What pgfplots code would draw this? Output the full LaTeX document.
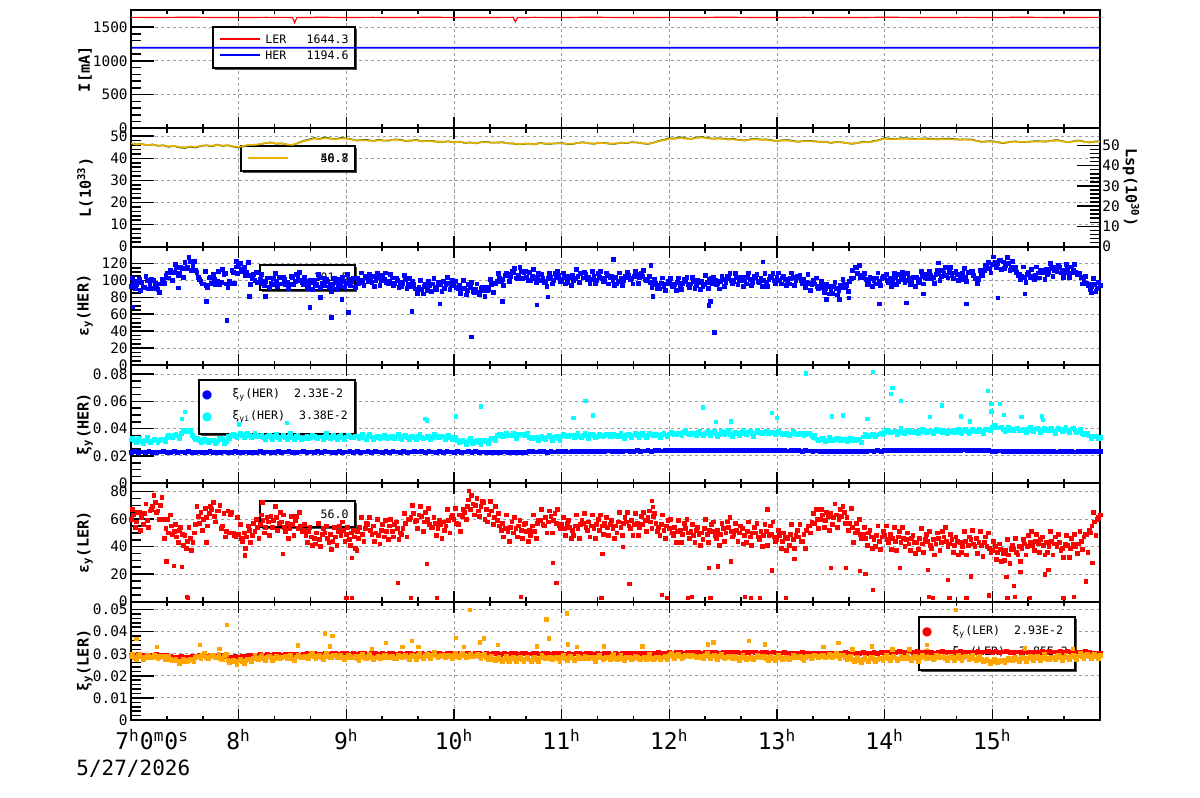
\documentclass[border=0pt]{standalone}
\usepackage{fontspec}
\setmainfont{DejaVu Sans Mono}
\newfontfamily\symf{DejaVu Sans}
\usepackage{pgfplots}
\usepackage{pgfplotstable}
\pgfplotsset{compat=1.18}

\definecolor{rblue}{RGB}{0,0,255}
\definecolor{rred}{RGB}{255,0,0}
\definecolor{rcyan}{RGB}{0,255,255}
\definecolor{rorange}{RGB}{255,165,0}
\definecolor{lorange}{RGB}{240,175,0}
\definecolor{lgreen}{RGB}{0,110,0}

\newcommand{\tfs}{\fontsize{7.2}{8}\selectfont}
\newcommand{\lfs}{\fontsize{7.6}{9}\selectfont\bfseries}
\newcommand{\gfs}{\fontsize{5.8}{7}\selectfont}
\newcommand{\hfs}{\fontsize{11.5}{13}\selectfont}
\newcommand{\dfs}{\fontsize{10.5}{12}\selectfont}

\pgfplotsset{
 panel/.style={scale only axis, width=484.5pt, height=59.1667pt, xmin=7, xmax=16, anchor=north west,
   axis line style={line width=1pt}, tick style={line width=0.8pt, black}, scaled ticks=false},
 bgax/.style={panel, xtick={7,8,...,16}, minor x tick num=2, xticklabels={}, ytick pos=left, yticklabels={},
   minor y tick num=0, xmajorgrids, ymajorgrids, major tick length=5.5pt, minor tick length=2.2pt,
   grid style={gray!75, dash pattern=on 1.6pt off 1.4pt, line width=0.5pt}},
 fgax/.style={panel, xtick=\empty, ytick pos=left, major tick length=11.5pt, minor tick length=5pt,
   yticklabel style={font=\tfs, inner sep=1pt, xshift=-0.5pt},
   every axis y label/.style={at={(rel axis cs:0,0.5)}, xshift=-23pt, rotate=90, anchor=center, font=\lfs}},
 sc/.style={only marks, mark=square*, mark size=0.85pt, mark options={draw=none}},
 scb/.style={only marks, mark=square*, mark size=0.95pt, mark options={draw=none}},
}

% ---------------- data ----------------
\pgfplotstableread[row sep=\\]{y\\
93\\99\\95\\101\\98\\92\\100\\95\\91\\97\\89\\96\\100\\106\\103\\109\\110\\115\\108\\114\\
121\\116\\123\\118\\112\\104\\99\\96\\94\\103\\97\\101\\99\\95\\113\\108\\92\\97\\110\\116\\
117\\113\\115\\110\\106\\102\\100\\98\\101\\96\\99\\103\\97\\102\\99\\104\\96\\101\\98\\95\\
103\\99\\105\\100\\95\\99\\94\\98\\100\\96\\103\\97\\94\\99\\96\\92\\98\\95\\93\\99\\
97\\101\\99\\102\\103\\98\\100\\104\\99\\102\\105\\100\\104\\100\\101\\98\\99\\103\\97\\100\\
98\\96\\101\\95\\93\\95\\90\\92\\89\\93\\88\\94\\96\\92\\98\\95\\99\\95\\97\\94\\
95\\92\\94\\90\\91\\88\\92\\87\\90\\86\\91\\88\\92\\89\\95\\97\\99\\103\\101\\106\\
107\\105\\110\\103\\106\\111\\109\\104\\110\\105\\102\\104\\100\\103\\99\\102\\104\\100\\103\\106\\
101\\104\\98\\103\\106\\102\\105\\108\\103\\107\\104\\101\\105\\100\\104\\102\\101\\106\\103\\100\\
104\\99\\102\\100\\103\\106\\102\\105\\107\\103\\105\\101\\100\\98\\95\\97\\94\\97\\93\\96\\
97\\93\\95\\98\\94\\97\\99\\95\\96\\99\\94\\98\\99\\95\\98\\101\\97\\100\\96\\99\\
101\\98\\102\\100\\99\\103\\100\\104\\100\\104\\101\\98\\103\\99\\102\\100\\98\\101\\103\\100\\
104\\100\\103\\101\\99\\102\\104\\100\\103\\100\\101\\98\\97\\95\\96\\93\\92\\94\\90\\93\\
89\\93\\91\\88\\92\\95\\94\\99\\112\\115\\108\\104\\103\\101\\99\\102\\100\\103\\99\\102\\
104\\100\\102\\99\\103\\99\\101\\104\\100\\102\\98\\103\\104\\101\\105\\103\\102\\106\\104\\107\\
108\\105\\109\\106\\110\\106\\109\\107\\105\\108\\104\\109\\111\\106\\103\\101\\107\\112\\118\\114\\
119\\122\\120\\124\\122\\118\\120\\116\\113\\110\\107\\105\\104\\107\\103\\105\\106\\109\\112\\110\\
113\\110\\114\\112\\111\\115\\112\\110\\113\\109\\112\\110\\108\\104\\100\\97\\96\\93\\95\\91\\
94\\}\epsH

\pgfplotstableread[row sep=\\]{y\\
103\\90\\99\\88\\92\\105\\90\\101\\100\\91\\86\\101\\97\\109\\112\\100\\119\\106\\115\\104\\
114\\127\\112\\123\\110\\101\\96\\111\\92\\104\\107\\95\\111\\98\\107\\96\\99\\112\\97\\108\\
120\\111\\106\\121\\95\\107\\110\\98\\107\\94\\103\\92\\95\\108\\93\\104\\104\\95\\90\\105\\
95\\107\\110\\98\\104\\91\\100\\89\\94\\107\\92\\103\\101\\92\\87\\102\\89\\101\\104\\92\\
107\\94\\103\\92\\96\\109\\94\\105\\107\\98\\93\\108\\94\\106\\109\\97\\107\\94\\103\\92\\
93\\106\\91\\102\\99\\90\\85\\100\\84\\96\\99\\87\\102\\89\\98\\87\\91\\104\\89\\100\\
99\\90\\85\\100\\83\\95\\98\\86\\96\\83\\92\\81\\88\\101\\86\\97\\108\\99\\94\\109\\
99\\111\\114\\102\\115\\102\\111\\100\\100\\113\\98\\109\\107\\98\\93\\108\\96\\108\\111\\99\\
109\\96\\105\\94\\100\\113\\98\\109\\110\\101\\96\\111\\96\\108\\111\\99\\109\\96\\105\\94\\
96\\109\\94\\105\\110\\101\\96\\111\\97\\109\\112\\100\\105\\92\\101\\90\\90\\103\\88\\99\\
102\\93\\88\\103\\89\\101\\104\\92\\104\\91\\100\\89\\93\\106\\91\\102\\104\\95\\90\\105\\
93\\105\\108\\96\\108\\95\\104\\93\\96\\109\\94\\105\\107\\98\\93\\108\\93\\105\\108\\96\\
109\\96\\105\\94\\96\\109\\94\\105\\106\\97\\92\\107\\88\\100\\103\\91\\99\\86\\95\\84\\
85\\98\\83\\94\\101\\92\\87\\102\\103\\115\\118\\106\\108\\95\\104\\93\\96\\109\\94\\105\\
107\\98\\93\\108\\95\\107\\110\\98\\108\\95\\104\\93\\98\\111\\96\\107\\111\\102\\97\\112\\
100\\112\\115\\103\\115\\102\\111\\100\\101\\114\\99\\110\\111\\102\\97\\112\\106\\118\\121\\109\\
128\\115\\124\\113\\114\\127\\112\\123\\115\\106\\101\\116\\98\\110\\113\\101\\116\\103\\112\\101\\
107\\120\\105\\116\\118\\109\\104\\119\\104\\116\\119\\107\\109\\96\\105\\94\\89\\102\\87\\98\\
}\epsHb

\pgfplotstableread[row sep=\\]{x y\\
7.02 68.6\\7.70 75.3\\7.89 52.6\\8.66 68.2\\8.86 56.5\\9.02 62\\9.61 63.5\\9.87 72.5\\10.16 33\\10.45 75.3\\
10.77 71.4\\10.87 80.4\\7.44 91\\8.10 81\\8.25 81\\8.76 80\\8.96 77.5\\12.37 70.6\\12.42 38.4\\12.38 75.3\\
13.95 72.5\\14.20 73.7\\14.76 72.5\\15.05 79.6\\15.30 84.3\\11.85 81\\13.46 77.6\\13.58 77.6\\13.67 79.6\\14.36 84.3\\
15.92 85.5\\12.87 122\\11.83 117.6\\14.50 121\\11.48 124.7\\7.98 122.7\\}\epsHout

\pgfplotstableread[row sep=\\]{y\\
60\\63\\58\\65\\61\\64\\59\\66\\69\\72\\66\\70\\60\\53\\50\\55\\51\\47\\52\\49\\
48\\44\\46\\43\\56\\62\\65\\60\\61\\64\\67\\62\\66\\70\\55\\47\\66\\63\\50\\47\\
49\\46\\50\\47\\52\\48\\51\\54\\56\\59\\54\\58\\62\\59\\61\\57\\58\\54\\57\\53\\
56\\59\\53\\55\\52\\48\\51\\47\\46\\50\\45\\49\\50\\46\\49\\44\\47\\51\\48\\52\\
49\\45\\50\\47\\51\\54\\49\\53\\56\\52\\55\\50\\48\\52\\47\\51\\55\\51\\56\\53\\
50\\53\\57\\60\\61\\64\\59\\63\\62\\58\\60\\56\\54\\57\\53\\56\\58\\55\\59\\61\\
60\\57\\63\\62\\65\\69\\67\\71\\70\\66\\69\\72\\67\\63\\66\\61\\59\\55\\57\\53\\
51\\54\\50\\53\\55\\52\\56\\51\\52\\55\\51\\57\\59\\56\\61\\58\\62\\59\\57\\55\\
56\\53\\57\\54\\52\\55\\53\\56\\57\\54\\58\\55\\53\\56\\52\\55\\57\\54\\56\\53\\
55\\58\\54\\57\\58\\55\\59\\56\\57\\54\\56\\59\\61\\58\\62\\57\\54\\56\\52\\55\\
53\\50\\54\\51\\52\\49\\53\\50\\51\\48\\52\\49\\50\\53\\49\\52\\51\\48\\52\\49\\
53\\50\\54\\51\\49\\52\\50\\53\\48\\51\\47\\50\\50\\47\\51\\48\\51\\48\\49\\47\\
45\\48\\44\\47\\46\\49\\45\\48\\47\\44\\49\\52\\55\\58\\57\\60\\60\\63\\59\\62\\
64\\61\\63\\60\\62\\65\\61\\57\\54\\50\\52\\49\\49\\46\\50\\47\\45\\48\\44\\47\\
48\\45\\49\\46\\44\\47\\43\\46\\45\\42\\46\\43\\43\\46\\42\\45\\44\\41\\45\\42\\
46\\43\\47\\44\\42\\45\\41\\44\\43\\40\\44\\41\\45\\42\\46\\43\\41\\43\\40\\39\\
37\\40\\36\\38\\35\\37\\34\\38\\38\\36\\40\\39\\42\\40\\43\\41\\44\\42\\45\\41\\
43\\40\\44\\42\\40\\43\\39\\42\\41\\39\\42\\40\\42\\44\\47\\49\\52\\55\\58\\60\\
63\\}\epsL

\pgfplotstableread[row sep=\\]{y\\
67\\54\\65\\52\\56\\71\\54\\67\\77\\65\\60\\76\\46\\60\\63\\49\\56\\43\\54\\41\\
39\\54\\37\\50\\69\\57\\52\\68\\55\\69\\72\\58\\66\\53\\64\\51\\50\\65\\48\\61\\
56\\44\\39\\55\\43\\57\\60\\46\\63\\50\\61\\48\\54\\69\\52\\65\\63\\51\\46\\62\\
48\\62\\65\\51\\56\\43\\54\\41\\42\\57\\40\\53\\55\\43\\38\\54\\41\\55\\58\\44\\
54\\41\\52\\39\\46\\61\\44\\57\\61\\49\\44\\60\\42\\56\\59\\45\\60\\47\\58\\45\\
49\\64\\47\\60\\70\\58\\53\\69\\51\\65\\68\\54\\61\\48\\59\\46\\52\\67\\50\\63\\
68\\56\\51\\67\\60\\74\\77\\63\\75\\62\\73\\60\\58\\73\\56\\69\\64\\52\\47\\63\\
44\\58\\61\\47\\59\\46\\57\\44\\48\\63\\46\\59\\67\\55\\50\\66\\50\\64\\67\\53\\
61\\48\\59\\46\\48\\63\\46\\59\\64\\52\\47\\63\\46\\60\\63\\49\\61\\48\\59\\46\\
50\\65\\48\\61\\65\\53\\48\\64\\48\\62\\65\\51\\66\\53\\64\\51\\48\\63\\46\\59\\
60\\48\\43\\59\\43\\57\\60\\46\\56\\43\\54\\41\\45\\60\\43\\56\\58\\46\\41\\57\\
44\\58\\61\\47\\57\\44\\55\\42\\43\\58\\41\\54\\57\\45\\40\\56\\41\\55\\58\\44\\
52\\39\\50\\37\\41\\56\\39\\52\\56\\44\\39\\55\\50\\64\\67\\53\\67\\54\\65\\52\\
56\\71\\54\\67\\69\\57\\52\\68\\43\\57\\60\\46\\54\\41\\52\\39\\40\\55\\38\\51\\
55\\43\\38\\54\\37\\51\\54\\40\\50\\37\\48\\35\\38\\53\\36\\49\\51\\39\\34\\50\\
37\\51\\54\\40\\49\\36\\47\\34\\36\\51\\34\\47\\52\\40\\35\\51\\33\\47\\50\\36\\
44\\31\\42\\29\\30\\45\\28\\41\\46\\34\\29\\45\\34\\48\\51\\37\\49\\36\\47\\34\\
36\\51\\34\\47\\49\\37\\32\\48\\32\\46\\49\\35\\51\\38\\49\\36\\50\\65\\48\\61\\
}\epsLb

\pgfplotstableread[row sep=\\]{x y\\
7.33 29.3\\7.40 26\\7.47 25.4\\7.52 3.6\\7.53 2.6\\7.70 43\\8.06 33.7\\8.41 34.9\\9.00 2.6\\9.05 2.6\\
9.05 32\\9.10 37.3\\9.48 13.6\\9.60 2.6\\9.75 27.6\\9.84 2.6\\10.62 3.6\\10.92 28.3\\10.95 13.6\\11.37 2.6\\
11.38 34.9\\11.57 40\\11.63 12.9\\11.93 4.8\\11.98 2.6\\12.17 2.6\\12.21 3.6\\12.38 2.6\\12.37 24.6\\12.45 25.6\\
12.57 29.3\\12.70 3.4\\12.76 2.6\\12.84 2.6\\12.95 22.7\\13.08 2.6\\13.16 31.2\\13.50 24.6\\13.64 24.6\\13.82 20.2\\
13.89 8.5\\13.77 22.2\\14.14 24.6\\14.40 23.2\\14.45 2.6\\14.41 3.4\\14.59 15.8\\14.60 2.6\\14.76 2.6\\14.80 18.3\\
14.97 4.6\\15.13 18\\15.20 11.4\\15.14 2.6\\15.21 3.4\\15.26 21.7\\15.35 2.6\\15.49 19.7\\15.52 23.2\\15.66 2.6\\
15.76 3.4\\15.87 14.6\\15.93 28.3\\11.84 73.2\\11.85 69\\12.91 67\\10.14 80.5\\8.22 72\\}\epsLout

\pgfplotstableread[row sep=\\]{y\\
0.0229\\0.0231\\0.0227\\0.0230\\0.0228\\0.0232\\0.0229\\0.0226\\0.0230\\0.0231\\
0.0228\\0.0229\\0.0232\\0.0227\\0.0230\\0.0228\\0.0231\\0.0229\\0.0226\\0.0230\\
0.0227\\0.0229\\0.0231\\0.0228\\0.0226\\0.0229\\0.0230\\0.0227\\0.0228\\0.0231\\
0.0229\\0.0227\\0.0230\\0.0228\\0.0226\\0.0229\\0.0231\\0.0228\\0.0230\\0.0227\\
0.0229\\0.0231\\0.0228\\0.0230\\0.0232\\0.0229\\0.0227\\0.0230\\0.0231\\0.0228\\
0.0230\\0.0229\\0.0232\\0.0228\\0.0231\\0.0230\\0.0227\\0.0229\\0.0231\\0.0228\\
0.0230\\0.0232\\0.0229\\0.0231\\0.0228\\0.0230\\0.0233\\0.0229\\0.0231\\0.0230\\
0.0228\\0.0231\\0.0229\\0.0232\\0.0230\\0.0228\\0.0231\\0.0229\\0.0230\\0.0232\\
0.0230\\0.0231\\0.0229\\0.0232\\0.0230\\0.0228\\0.0231\\0.0229\\0.0232\\0.0230\\
0.0229\\0.0231\\0.0228\\0.0230\\0.0232\\0.0229\\0.0231\\0.0228\\0.0230\\0.0229\\
0.0227\\0.0229\\0.0226\\0.0228\\0.0230\\0.0227\\0.0229\\0.0226\\0.0228\\0.0227\\
0.0229\\0.0231\\0.0232\\0.0230\\0.0233\\0.0231\\0.0229\\0.0232\\0.0230\\0.0233\\
0.0231\\0.0233\\0.0230\\0.0232\\0.0234\\0.0231\\0.0233\\0.0235\\0.0232\\0.0234\\
0.0236\\0.0233\\0.0235\\0.0237\\0.0234\\0.0236\\0.0233\\0.0235\\0.0237\\0.0234\\
0.0236\\0.0238\\0.0235\\0.0237\\0.0239\\0.0236\\0.0238\\0.0240\\0.0237\\0.0239\\
0.0241\\0.0238\\0.0240\\0.0242\\0.0239\\0.0241\\0.0243\\0.0240\\0.0242\\0.0239\\
0.0241\\0.0243\\0.0240\\0.0242\\0.0239\\0.0241\\0.0240\\0.0242\\0.0238\\0.0241\\
0.0239\\0.0241\\0.0238\\0.0240\\0.0242\\0.0239\\0.0241\\0.0238\\0.0240\\0.0239\\
0.0241\\0.0238\\0.0240\\0.0237\\0.0239\\0.0241\\0.0238\\0.0236\\0.0239\\0.0237\\
0.0235\\0.0237\\0.0234\\0.0236\\0.0233\\0.0235\\0.0234\\0.0236\\0.0233\\0.0235\\
0.0234\\0.0232\\0.0235\\0.0233\\0.0236\\0.0234\\0.0237\\0.0235\\0.0238\\0.0236\\
0.0239\\0.0241\\0.0238\\0.0240\\0.0242\\0.0239\\0.0241\\0.0243\\0.0240\\0.0242\\
0.0240\\0.0242\\0.0239\\0.0241\\0.0243\\0.0240\\0.0242\\0.0239\\0.0241\\0.0243\\
0.0240\\0.0242\\0.0244\\0.0241\\0.0243\\0.0240\\0.0242\\0.0239\\0.0241\\0.0238\\
0.0236\\0.0234\\0.0237\\0.0235\\0.0233\\0.0236\\0.0234\\0.0232\\0.0235\\0.0233\\
0.0231\\0.0234\\0.0232\\0.0235\\0.0233\\0.0231\\0.0234\\0.0232\\0.0230\\0.0233\\
0.0231\\0.0234\\0.0232\\0.0230\\0.0233\\0.0231\\0.0234\\0.0232\\0.0235\\0.0233\\
0.0232\\}\xiH

\pgfplotstableread[row sep=\\]{y\\
0.0318\\0.0312\\0.0321\\0.0309\\0.0315\\0.0305\\0.0311\\0.0318\\0.0314\\0.0322\\
0.0335\\0.0344\\0.0351\\0.0347\\0.0368\\0.0385\\0.0376\\0.0352\\0.0322\\0.0316\\
0.0309\\0.0314\\0.0307\\0.0312\\0.0306\\0.0332\\0.0295\\0.0341\\0.0350\\0.0346\\
0.0354\\0.0349\\0.0357\\0.0351\\0.0346\\0.0352\\0.0340\\0.0335\\0.0343\\0.0338\\
0.0345\\0.0332\\0.0340\\0.0336\\0.0347\\0.0333\\0.0341\\0.0337\\0.0329\\0.0342\\
0.0336\\0.0344\\0.0331\\0.0339\\0.0346\\0.0334\\0.0341\\0.0338\\0.0345\\0.0333\\
0.0340\\0.0347\\0.0335\\0.0343\\0.0338\\0.0332\\0.0344\\0.0339\\0.0336\\0.0345\\
0.0337\\0.0342\\0.0334\\0.0346\\0.0339\\0.0331\\0.0343\\0.0336\\0.0341\\0.0335\\
0.0344\\0.0338\\0.0333\\0.0341\\0.0336\\0.0345\\0.0332\\0.0339\\0.0343\\0.0334\\
0.0322\\0.0314\\0.0308\\0.0303\\0.0311\\0.0299\\0.0306\\0.0302\\0.0312\\0.0305\\
0.0316\\0.0328\\0.0351\\0.0357\\0.0349\\0.0360\\0.0353\\0.0347\\0.0356\\0.0362\\
0.0350\\0.0338\\0.0329\\0.0335\\0.0327\\0.0333\\0.0340\\0.0331\\0.0336\\0.0330\\
0.0344\\0.0351\\0.0346\\0.0355\\0.0349\\0.0343\\0.0352\\0.0347\\0.0356\\0.0350\\
0.0345\\0.0353\\0.0348\\0.0357\\0.0342\\0.0350\\0.0355\\0.0346\\0.0352\\0.0348\\
0.0354\\0.0347\\0.0356\\0.0351\\0.0345\\0.0358\\0.0349\\0.0353\\0.0360\\0.0355\\
0.0362\\0.0368\\0.0359\\0.0365\\0.0371\\0.0363\\0.0357\\0.0366\\0.0372\\0.0361\\
0.0368\\0.0362\\0.0370\\0.0364\\0.0358\\0.0367\\0.0373\\0.0360\\0.0369\\0.0363\\
0.0371\\0.0366\\0.0376\\0.0362\\0.0369\\0.0374\\0.0365\\0.0378\\0.0367\\0.0372\\
0.0364\\0.0369\\0.0358\\0.0365\\0.0361\\0.0367\\0.0356\\0.0363\\0.0359\\0.0366\\
0.0334\\0.0325\\0.0319\\0.0327\\0.0315\\0.0322\\0.0318\\0.0326\\0.0314\\0.0321\\
0.0317\\0.0324\\0.0313\\0.0320\\0.0339\\0.0352\\0.0347\\0.0361\\0.0355\\0.0368\\
0.0374\\0.0381\\0.0369\\0.0378\\0.0384\\0.0372\\0.0379\\0.0386\\0.0375\\0.0382\\
0.0377\\0.0385\\0.0371\\0.0380\\0.0376\\0.0388\\0.0373\\0.0381\\0.0378\\0.0385\\
0.0379\\0.0374\\0.0386\\0.0381\\0.0377\\0.0390\\0.0383\\0.0379\\0.0392\\0.0398\\
0.0412\\0.0418\\0.0405\\0.0397\\0.0388\\0.0394\\0.0386\\0.0399\\0.0391\\0.0387\\
0.0395\\0.0389\\0.0398\\0.0392\\0.0386\\0.0397\\0.0390\\0.0384\\0.0396\\0.0391\\
0.0393\\0.0387\\0.0398\\0.0389\\0.0376\\0.0368\\0.0355\\0.0347\\0.0339\\0.0345\\
0.0336\\}\xiHi

\pgfplotstableread[row sep=\\]{y\\
0.0333\\0.0300\\0.0329\\0.0291\\0.0335\\0.0296\\0.0323\\0.0302\\0.0320\\0.0308\\
0.0350\\0.0332\\0.0359\\0.0329\\0.0388\\0.0376\\0.0388\\0.0336\\0.0328\\0.0302\\
0.0324\\0.0302\\0.0315\\0.0294\\0.0326\\0.0323\\0.0307\\0.0325\\0.0356\\0.0332\\
0.0369\\0.0337\\0.0365\\0.0333\\0.0366\\0.0343\\0.0352\\0.0319\\0.0349\\0.0324\\
0.0360\\0.0320\\0.0348\\0.0318\\0.0367\\0.0324\\0.0353\\0.0321\\0.0335\\0.0328\\
0.0351\\0.0332\\0.0339\\0.0321\\0.0366\\0.0325\\0.0353\\0.0322\\0.0351\\0.0319\\
0.0355\\0.0335\\0.0343\\0.0325\\0.0358\\0.0323\\0.0356\\0.0323\\0.0342\\0.0331\\
0.0352\\0.0330\\0.0342\\0.0328\\0.0359\\0.0322\\0.0355\\0.0320\\0.0347\\0.0321\\
0.0359\\0.0326\\0.0341\\0.0323\\0.0356\\0.0336\\0.0344\\0.0323\\0.0349\\0.0320\\
0.0337\\0.0302\\0.0316\\0.0285\\0.0331\\0.0290\\0.0318\\0.0286\\0.0318\\0.0291\\
0.0331\\0.0316\\0.0359\\0.0339\\0.0369\\0.0351\\0.0365\\0.0331\\0.0362\\0.0348\\
0.0365\\0.0326\\0.0337\\0.0317\\0.0347\\0.0324\\0.0352\\0.0315\\0.0342\\0.0316\\
0.0359\\0.0339\\0.0354\\0.0337\\0.0369\\0.0334\\0.0364\\0.0331\\0.0362\\0.0336\\
0.0360\\0.0341\\0.0356\\0.0339\\0.0362\\0.0341\\0.0367\\0.0330\\0.0358\\0.0334\\
0.0369\\0.0335\\0.0364\\0.0333\\0.0365\\0.0349\\0.0361\\0.0337\\0.0366\\0.0341\\
0.0377\\0.0356\\0.0367\\0.0347\\0.0391\\0.0354\\0.0369\\0.0350\\0.0378\\0.0347\\
0.0383\\0.0350\\0.0378\\0.0346\\0.0378\\0.0358\\0.0385\\0.0344\\0.0375\\0.0349\\
0.0386\\0.0354\\0.0384\\0.0344\\0.0389\\0.0365\\0.0377\\0.0362\\0.0373\\0.0358\\
0.0379\\0.0357\\0.0366\\0.0347\\0.0381\\0.0358\\0.0368\\0.0347\\0.0365\\0.0352\\
0.0349\\0.0313\\0.0327\\0.0309\\0.0335\\0.0313\\0.0330\\0.0310\\0.0320\\0.0307\\
0.0332\\0.0312\\0.0321\\0.0302\\0.0359\\0.0343\\0.0359\\0.0345\\0.0361\\0.0354\\
0.0389\\0.0369\\0.0377\\0.0360\\0.0404\\0.0363\\0.0391\\0.0370\\0.0381\\0.0368\\
0.0392\\0.0373\\0.0379\\0.0362\\0.0396\\0.0379\\0.0385\\0.0365\\0.0384\\0.0371\\
0.0394\\0.0362\\0.0394\\0.0363\\0.0397\\0.0381\\0.0395\\0.0363\\0.0398\\0.0384\\
0.0427\\0.0406\\0.0413\\0.0379\\0.0408\\0.0385\\0.0398\\0.0383\\0.0397\\0.0373\\
0.0410\\0.0377\\0.0406\\0.0374\\0.0406\\0.0388\\0.0402\\0.0368\\0.0402\\0.0377\\
0.0408\\0.0375\\0.0406\\0.0371\\0.0396\\0.0359\\0.0367\\0.0331\\0.0345\\0.0331\\
}\xiHib

\pgfplotstableread[row sep=\\]{x y\\
13.27 0.0804\\13.89 0.0817\\14.07 0.0698\\14.06 0.0654\\14.15 0.0605\\14.96 0.0678\\14.99 0.0580\\15.07 0.0580\\14.99 0.0527\\11.22 0.0605\\
10.25 0.0563\\12.31 0.0556\\14.53 0.0571\\12.95 0.0515\\13.00 0.0478\\13.51 0.0490\\13.61 0.0498\\9.73 0.0471\\10.02 0.0490\\11.11 0.0478\\
11.29 0.0498\\12.43 0.0449\\12.57 0.0454\\14.42 0.0485\\14.71 0.0490\\15.11 0.0502\\15.27 0.0485\\15.46 0.0490\\13.84 0.0473\\14.79 0.0454\\
15.47 0.0466\\7.50 0.0522\\7.47 0.0470\\8.00 0.0430\\8.45 0.0440\\9.75 0.0460\\}\xiHiout

\pgfplotstableread[row sep=\\]{y\\
0.0294\\0.0291\\0.0296\\0.0292\\0.0295\\0.0290\\0.0293\\0.0297\\0.0292\\0.0294\\
0.0291\\0.0288\\0.0286\\0.0284\\0.0287\\0.0283\\0.0285\\0.0288\\0.0290\\0.0292\\
0.0293\\0.0290\\0.0294\\0.0291\\0.0289\\0.0292\\0.0288\\0.0286\\0.0284\\0.0287\\
0.0285\\0.0288\\0.0290\\0.0293\\0.0295\\0.0292\\0.0296\\0.0294\\0.0297\\0.0295\\
0.0298\\0.0296\\0.0294\\0.0297\\0.0299\\0.0296\\0.0298\\0.0295\\0.0297\\0.0300\\
0.0298\\0.0301\\0.0297\\0.0299\\0.0302\\0.0298\\0.0300\\0.0303\\0.0299\\0.0301\\
0.0302\\0.0299\\0.0301\\0.0298\\0.0300\\0.0303\\0.0299\\0.0302\\0.0300\\0.0298\\
0.0301\\0.0299\\0.0302\\0.0300\\0.0297\\0.0301\\0.0299\\0.0302\\0.0300\\0.0298\\
0.0300\\0.0302\\0.0299\\0.0301\\0.0298\\0.0300\\0.0302\\0.0299\\0.0301\\0.0300\\
0.0298\\0.0301\\0.0299\\0.0302\\0.0300\\0.0297\\0.0300\\0.0302\\0.0299\\0.0301\\
0.0299\\0.0302\\0.0300\\0.0298\\0.0301\\0.0299\\0.0302\\0.0300\\0.0297\\0.0300\\
0.0302\\0.0299\\0.0301\\0.0300\\0.0298\\0.0301\\0.0303\\0.0299\\0.0300\\0.0302\\
0.0300\\0.0298\\0.0301\\0.0299\\0.0302\\0.0300\\0.0297\\0.0300\\0.0302\\0.0299\\
0.0301\\0.0299\\0.0302\\0.0300\\0.0298\\0.0301\\0.0299\\0.0302\\0.0300\\0.0303\\
0.0301\\0.0303\\0.0300\\0.0302\\0.0304\\0.0301\\0.0303\\0.0305\\0.0302\\0.0304\\
0.0306\\0.0303\\0.0305\\0.0307\\0.0304\\0.0306\\0.0308\\0.0305\\0.0307\\0.0304\\
0.0306\\0.0308\\0.0305\\0.0307\\0.0304\\0.0306\\0.0308\\0.0305\\0.0307\\0.0306\\
0.0304\\0.0307\\0.0305\\0.0308\\0.0306\\0.0304\\0.0307\\0.0305\\0.0303\\0.0306\\
0.0304\\0.0302\\0.0305\\0.0303\\0.0301\\0.0304\\0.0302\\0.0305\\0.0303\\0.0301\\
0.0304\\0.0302\\0.0300\\0.0303\\0.0301\\0.0304\\0.0302\\0.0300\\0.0303\\0.0305\\
0.0302\\0.0304\\0.0301\\0.0303\\0.0305\\0.0302\\0.0304\\0.0306\\0.0303\\0.0305\\
0.0307\\0.0305\\0.0308\\0.0306\\0.0309\\0.0307\\0.0305\\0.0308\\0.0306\\0.0309\\
0.0307\\0.0305\\0.0308\\0.0306\\0.0304\\0.0307\\0.0309\\0.0306\\0.0308\\0.0305\\
0.0307\\0.0309\\0.0306\\0.0308\\0.0305\\0.0307\\0.0309\\0.0306\\0.0308\\0.0310\\
0.0307\\0.0309\\0.0306\\0.0308\\0.0310\\0.0307\\0.0305\\0.0308\\0.0306\\0.0309\\
0.0307\\0.0305\\0.0308\\0.0306\\0.0309\\0.0307\\0.0310\\0.0308\\0.0306\\0.0309\\
0.0307\\0.0309\\0.0306\\0.0308\\0.0305\\0.0307\\0.0309\\0.0306\\0.0304\\0.0302\\
0.0300\\}\xiL

\pgfplotstableread[row sep=\\]{y\\
0.0289\\0.0284\\0.0291\\0.0286\\0.0282\\0.0290\\0.0285\\0.0288\\0.0283\\0.0287\\
0.0281\\0.0276\\0.0271\\0.0268\\0.0266\\0.0272\\0.0269\\0.0274\\0.0283\\0.0289\\
0.0291\\0.0285\\0.0288\\0.0293\\0.0286\\0.0279\\0.0290\\0.0271\\0.0266\\0.0263\\
0.0268\\0.0265\\0.0271\\0.0276\\0.0281\\0.0278\\0.0284\\0.0280\\0.0286\\0.0282\\
0.0279\\0.0285\\0.0281\\0.0287\\0.0283\\0.0277\\0.0286\\0.0290\\0.0284\\0.0288\\
0.0292\\0.0286\\0.0289\\0.0283\\0.0291\\0.0287\\0.0285\\0.0293\\0.0288\\0.0284\\
0.0282\\0.0289\\0.0285\\0.0279\\0.0287\\0.0283\\0.0290\\0.0284\\0.0281\\0.0288\\
0.0285\\0.0291\\0.0283\\0.0287\\0.0280\\0.0289\\0.0286\\0.0282\\0.0290\\0.0287\\
0.0291\\0.0286\\0.0293\\0.0289\\0.0295\\0.0290\\0.0287\\0.0294\\0.0291\\0.0288\\
0.0293\\0.0289\\0.0296\\0.0291\\0.0287\\0.0294\\0.0290\\0.0286\\0.0292\\0.0284\\
0.0281\\0.0276\\0.0279\\0.0273\\0.0277\\0.0271\\0.0278\\0.0274\\0.0280\\0.0275\\
0.0277\\0.0272\\0.0279\\0.0275\\0.0281\\0.0283\\0.0279\\0.0285\\0.0281\\0.0277\\
0.0283\\0.0279\\0.0285\\0.0281\\0.0277\\0.0284\\0.0280\\0.0286\\0.0282\\0.0278\\
0.0285\\0.0281\\0.0277\\0.0283\\0.0287\\0.0280\\0.0284\\0.0278\\0.0282\\0.0286\\
0.0279\\0.0283\\0.0276\\0.0282\\0.0285\\0.0280\\0.0277\\0.0284\\0.0281\\0.0287\\
0.0291\\0.0286\\0.0293\\0.0288\\0.0284\\0.0292\\0.0287\\0.0290\\0.0285\\0.0289\\
0.0292\\0.0286\\0.0290\\0.0283\\0.0288\\0.0285\\0.0281\\0.0287\\0.0283\\0.0280\\
0.0286\\0.0282\\0.0279\\0.0285\\0.0281\\0.0288\\0.0283\\0.0278\\0.0284\\0.0280\\
0.0286\\0.0282\\0.0279\\0.0284\\0.0281\\0.0287\\0.0283\\0.0279\\0.0285\\0.0288\\
0.0284\\0.0290\\0.0287\\0.0292\\0.0286\\0.0289\\0.0293\\0.0287\\0.0291\\0.0285\\
0.0279\\0.0274\\0.0277\\0.0271\\0.0275\\0.0272\\0.0278\\0.0273\\0.0276\\0.0281\\
0.0284\\0.0279\\0.0285\\0.0281\\0.0277\\0.0283\\0.0286\\0.0280\\0.0284\\0.0278\\
0.0282\\0.0286\\0.0279\\0.0284\\0.0280\\0.0287\\0.0283\\0.0278\\0.0285\\0.0281\\
0.0284\\0.0279\\0.0283\\0.0286\\0.0280\\0.0277\\0.0282\\0.0275\\0.0271\\0.0268\\
0.0265\\0.0270\\0.0266\\0.0272\\0.0268\\0.0274\\0.0279\\0.0276\\0.0282\\0.0278\\
0.0281\\0.0277\\0.0283\\0.0279\\0.0285\\0.0280\\0.0276\\0.0283\\0.0287\\0.0282\\
0.0286\\0.0283\\0.0288\\0.0284\\0.0290\\0.0286\\0.0291\\0.0287\\0.0293\\0.0289\\
0.0292\\}\xiLi

\pgfplotstableread[row sep=\\]{y\\
0.0298\\0.0276\\0.0296\\0.0276\\0.0293\\0.0284\\0.0292\\0.0279\\0.0287\\0.0276\\
0.0290\\0.0268\\0.0276\\0.0258\\0.0277\\0.0266\\0.0276\\0.0265\\0.0287\\0.0278\\
0.0300\\0.0277\\0.0293\\0.0283\\0.0297\\0.0273\\0.0297\\0.0262\\0.0270\\0.0252\\
0.0277\\0.0257\\0.0276\\0.0266\\0.0292\\0.0272\\0.0291\\0.0271\\0.0290\\0.0271\\
0.0288\\0.0277\\0.0286\\0.0277\\0.0294\\0.0271\\0.0293\\0.0281\\0.0288\\0.0277\\
0.0301\\0.0278\\0.0294\\0.0273\\0.0302\\0.0281\\0.0292\\0.0284\\0.0292\\0.0273\\
0.0291\\0.0281\\0.0290\\0.0269\\0.0298\\0.0277\\0.0297\\0.0275\\0.0285\\0.0277\\
0.0294\\0.0283\\0.0288\\0.0277\\0.0291\\0.0283\\0.0293\\0.0273\\0.0294\\0.0276\\
0.0300\\0.0278\\0.0298\\0.0279\\0.0306\\0.0284\\0.0294\\0.0285\\0.0295\\0.0277\\
0.0302\\0.0281\\0.0301\\0.0281\\0.0298\\0.0288\\0.0297\\0.0277\\0.0296\\0.0273\\
0.0290\\0.0268\\0.0284\\0.0263\\0.0288\\0.0265\\0.0285\\0.0265\\0.0284\\0.0264\\
0.0286\\0.0264\\0.0284\\0.0265\\0.0292\\0.0277\\0.0286\\0.0276\\0.0285\\0.0266\\
0.0292\\0.0271\\0.0290\\0.0271\\0.0288\\0.0278\\0.0287\\0.0277\\0.0286\\0.0267\\
0.0294\\0.0273\\0.0282\\0.0273\\0.0298\\0.0274\\0.0291\\0.0269\\0.0286\\0.0275\\
0.0288\\0.0275\\0.0281\\0.0272\\0.0296\\0.0274\\0.0284\\0.0275\\0.0285\\0.0276\\
0.0300\\0.0278\\0.0298\\0.0278\\0.0295\\0.0286\\0.0294\\0.0281\\0.0289\\0.0278\\
0.0301\\0.0278\\0.0295\\0.0273\\0.0299\\0.0279\\0.0288\\0.0278\\0.0287\\0.0269\\
0.0295\\0.0274\\0.0284\\0.0275\\0.0292\\0.0282\\0.0290\\0.0269\\0.0288\\0.0269\\
0.0295\\0.0274\\0.0284\\0.0274\\0.0292\\0.0281\\0.0290\\0.0270\\0.0289\\0.0277\\
0.0293\\0.0282\\0.0292\\0.0282\\0.0297\\0.0283\\0.0300\\0.0278\\0.0295\\0.0274\\
0.0288\\0.0266\\0.0282\\0.0261\\0.0286\\0.0266\\0.0285\\0.0264\\0.0280\\0.0270\\
0.0293\\0.0271\\0.0290\\0.0271\\0.0288\\0.0277\\0.0293\\0.0271\\0.0288\\0.0267\\
0.0291\\0.0278\\0.0284\\0.0274\\0.0291\\0.0281\\0.0290\\0.0269\\0.0289\\0.0270\\
0.0293\\0.0271\\0.0288\\0.0276\\0.0291\\0.0271\\0.0289\\0.0266\\0.0275\\0.0257\\
0.0274\\0.0262\\0.0271\\0.0262\\0.0279\\0.0268\\0.0286\\0.0267\\0.0286\\0.0267\\
0.0290\\0.0269\\0.0288\\0.0269\\0.0296\\0.0274\\0.0283\\0.0274\\0.0291\\0.0271\\
0.0295\\0.0275\\0.0293\\0.0274\\0.0301\\0.0280\\0.0298\\0.0278\\0.0297\\0.0278\\
}\xiLib

\pgfplotstableread[row sep=\\]{x y\\
7.05 0.0366\\7.24 0.0332\\7.64 0.0340\\7.82 0.0322\\7.89 0.0432\\8.55 0.0337\\8.80 0.0393\\8.87 0.0380\\8.85 0.0334\\9.24 0.0322\\
9.37 0.0349\\9.52 0.0332\\9.61 0.0359\\9.67 0.0330\\10.02 0.0373\\10.15 0.0500\\11.05 0.0482\\10.86 0.0455\\10.09 0.0330\\10.24 0.0352\\
10.28 0.0370\\10.41 0.0339\\10.88 0.0370\\10.77 0.0334\\11.06 0.0343\\11.14 0.0330\\11.39 0.0334\\11.75 0.0334\\12.36 0.0343\\12.41 0.0352\\
12.74 0.0357\\12.89 0.0343\\13.43 0.0330\\13.57 0.0348\\13.70 0.0320\\13.88 0.0334\\14.07 0.0320\\14.23 0.0320\\14.66 0.0500\\14.39 0.0340\\
15.30 0.0325\\15.75 0.0322\\}\xiLiout

\pgfplotstableread[row sep=\\]{y\\
46.8\\46.3\\46.5\\45.9\\46.3\\45.7\\45.9\\45.2\\45.6\\44.9\\44.7\\45.3\\44.9\\45.6\\45.9\\45.4\\46.2\\45.6\\45.9\\45.3\\
44.9\\45.5\\46.1\\45.9\\46.4\\46.9\\47.2\\46.6\\46.8\\46.2\\46.0\\46.9\\47.9\\48.5\\49.2\\48.8\\49.5\\49.0\\48.7\\49.3\\
49.0\\48.6\\48.1\\48.3\\48.3\\47.8\\48.5\\48.0\\48.1\\48.6\\48.4\\47.9\\48.0\\48.4\\47.7\\47.9\\47.9\\47.5\\47.5\\47.7\\
47.2\\47.6\\47.0\\47.2\\46.8\\47.3\\47.5\\47.1\\47.1\\47.3\\46.8\\46.7\\46.3\\46.5\\46.7\\46.3\\47.0\\46.6\\46.6\\46.8\\
46.9\\46.5\\46.5\\47.0\\47.3\\46.8\\46.6\\47.0\\47.0\\46.6\\46.6\\47.1\\46.9\\47.3\\47.2\\46.8\\46.5\\47.1\\47.9\\48.4\\
49.1\\49.0\\49.6\\49.1\\48.8\\49.4\\49.7\\49.3\\48.9\\49.1\\49.0\\48.6\\48.8\\48.3\\48.1\\48.6\\48.9\\48.5\\48.6\\48.2\\
47.8\\48.2\\48.3\\47.9\\47.5\\47.9\\47.9\\47.7\\47.5\\47.5\\47.0\\47.4\\47.3\\46.9\\46.6\\47.0\\47.5\\47.3\\47.9\\48.3\\
49.2\\48.9\\48.7\\49.1\\49.1\\48.9\\48.8\\49.0\\49.0\\48.8\\48.6\\48.9\\48.9\\48.7\\48.5\\48.6\\48.6\\48.0\\47.5\\47.7\\
47.8\\47.3\\46.9\\47.3\\47.7\\47.5\\47.4\\47.6\\47.8\\47.7\\47.6\\48.0\\48.3\\47.8\\47.3\\47.7\\48.1\\47.6\\47.2\\47.6\\
47.7\\}\Lgreen

\pgfplotstableread[row sep=\\]{y\\
51.0\\50.4\\50.7\\50.1\\50.4\\49.8\\50.0\\49.5\\49.7\\49.2\\49.0\\49.5\\49.2\\49.8\\50.0\\49.7\\50.3\\49.8\\50.1\\49.5\\
49.2\\49.8\\50.2\\50.3\\50.6\\51.2\\51.3\\50.9\\50.9\\50.4\\50.3\\51.0\\52.0\\52.6\\53.3\\53.0\\53.6\\53.2\\53.0\\53.4\\
53.3\\52.9\\52.4\\52.5\\52.4\\52.0\\52.6\\52.3\\52.4\\52.8\\52.5\\52.2\\52.3\\52.6\\52.0\\52.1\\52.0\\51.7\\51.8\\52.0\\
51.5\\51.8\\51.3\\51.4\\51.0\\51.5\\51.6\\51.3\\51.4\\51.5\\51.0\\50.9\\50.6\\50.8\\50.8\\50.5\\51.1\\50.8\\50.9\\51.0\\
51.0\\50.7\\50.8\\51.2\\51.4\\51.0\\50.9\\51.2\\51.1\\50.8\\50.9\\51.3\\51.2\\51.5\\51.4\\51.0\\50.8\\51.3\\52.0\\52.6\\
53.2\\53.2\\53.7\\53.3\\53.1\\53.6\\53.9\\53.5\\53.2\\53.3\\53.2\\52.8\\52.9\\52.5\\52.4\\52.8\\53.1\\52.7\\52.7\\52.4\\
52.1\\52.4\\52.4\\52.0\\51.8\\52.1\\52.0\\51.9\\51.8\\51.7\\51.3\\51.6\\51.5\\51.1\\50.9\\51.2\\51.6\\51.5\\52.0\\52.5\\
53.3\\53.0\\53.0\\53.3\\53.2\\53.1\\53.1\\53.2\\53.1\\53.0\\52.9\\53.1\\53.0\\52.9\\52.8\\52.8\\52.7\\52.2\\51.8\\51.9\\
51.9\\51.5\\51.2\\51.5\\51.8\\51.7\\51.7\\51.8\\51.9\\51.9\\51.9\\52.2\\52.4\\52.0\\51.6\\51.9\\52.2\\51.8\\51.5\\51.8\\
51.9\\}\Lorange

\begin{document}
\begin{tikzpicture}
\useasboundingbox (0pt,0pt) rectangle (600pt,399pt);

% ===== Panel 1 : currents =====
\begin{axis}[bgax, at={(65.5pt,394pt)}, ymin=0, ymax=1754, ytick={0,500,1000,1500}]
\end{axis}
\fill[black!70] (107.5pt,384.5pt) rectangle (178.5pt,364pt);
\filldraw[fill=white, draw=black, line width=0.6pt] (106.5pt,385.5pt) rectangle (177.5pt,365pt);
\draw[rred, line width=0.6pt] (110pt,379.5pt) -- (130pt,379.5pt);
\draw[rblue, line width=0.6pt] (110pt,371.5pt) -- (130pt,371.5pt);
\node[anchor=west, font=\gfs, inner sep=0pt] at (132.5pt,379.3pt) {LER};
\node[anchor=east, font=\gfs, inner sep=0pt] at (174.5pt,379.3pt) {1644.3};
\node[anchor=west, font=\gfs, inner sep=0pt] at (132.5pt,371.3pt) {HER};
\node[anchor=east, font=\gfs, inner sep=0pt] at (174.5pt,371.3pt) {1194.6};
\begin{axis}[fgax, at={(65.5pt,394pt)}, ymin=0, ymax=1754, ytick={0,500,1000,1500},
  yticklabels={0,500,1000,1500}, minor y tick num=4, ylabel={I[mA]}]
\addplot[rred, line width=0.6pt] coordinates {(7.0,1645) (7.25,1643) (7.5,1646) (7.75,1644) (8.0,1642) (8.25,1645) (8.5,1644) (8.52,1565) (8.54,1641) (8.75,1646) (9.0,1643) (9.25,1645) (9.5,1642) (9.75,1646) (10.0,1644) (10.25,1643) (10.55,1645) (10.57,1578) (10.59,1642) (10.75,1645) (11.0,1643) (11.25,1646) (11.5,1644) (11.75,1642) (12.0,1645) (12.25,1643) (12.5,1646) (12.75,1644) (13.0,1642) (13.25,1645) (13.5,1644) (13.75,1643) (14.0,1646) (14.25,1644) (14.5,1642) (14.75,1645) (15.0,1643) (15.25,1646) (15.5,1644) (15.75,1643) (16.0,1645)};
\addplot[rblue, line width=0.9pt] coordinates {(7.0,1194.6) (8.0,1194.5) (9.0,1194.7) (10.0,1194.6) (11.0,1194.5) (12.0,1194.7) (13.0,1194.6) (14.0,1194.5) (15.0,1194.7) (16.0,1194.6)};
\end{axis}

% ===== Panel 2 : luminosity =====
\begin{axis}[bgax, at={(65.5pt,334.8333pt)}, ymin=0, ymax=53.6, ytick={0,10,20,30,40,50}]
\end{axis}
\fill[black!70] (121.5pt,325pt) rectangle (178.5pt,312.5pt);
\filldraw[fill=white, draw=black, line width=0.6pt] (120.5pt,326pt) rectangle (177.5pt,313.5pt);
\draw[lorange, line width=0.8pt] (124pt,320pt) -- (144pt,320pt);
\node[anchor=east, font=\gfs, inner sep=0pt] at (174.5pt,319.8pt) {46.8};
\node[anchor=east, font=\gfs, inner sep=0pt] at (174.5pt,319.8pt) {50.7};
\begin{axis}[fgax, at={(65.5pt,334.8333pt)}, ymin=0, ymax=53.6, ytick={0,10,20,30,40,50},
  yticklabels={0,10,20,30,40,50}, minor y tick num=4, ylabel={L(10\textsuperscript{33})}]
\addplot[lgreen, line width=0.8pt] table[x expr={7+\coordindex/20}, y=y] {\Lgreen};
\end{axis}
\begin{axis}[fgax, at={(65.5pt,334.8333pt)}, ymin=0, ymax=58.4, ytick={0,10,20,30,40,50},
  ytick pos=right, yticklabel pos=right, yticklabels={0,10,20,30,40,50}, minor y tick num=4,
  yticklabel style={font=\tfs, inner sep=1pt, xshift=0.5pt},
  every axis y label/.style={at={(rel axis cs:1,0.5)}, xshift=15.5pt, rotate=-90, anchor=center, font=\lfs},
  ylabel={Lsp(10\textsuperscript{30})}]
\addplot[lorange, line width=0.8pt] table[x expr={7+\coordindex/20}, y=y] {\Lorange};
\end{axis}

% ===== Panel 3 : eps_y HER =====
\begin{axis}[bgax, at={(65.5pt,275.6667pt)}, ymin=0, ymax=140, ytick={0,20,...,120}]
\end{axis}
\fill[black!70] (131pt,265.5pt) rectangle (178.5pt,253pt);
\filldraw[fill=white, draw=black, line width=0.6pt] (130pt,266.5pt) rectangle (177.5pt,254pt);
\node[anchor=east, font=\gfs, inner sep=0pt] at (174.5pt,260.3pt) {101.5};
\begin{axis}[fgax, at={(65.5pt,275.6667pt)}, ymin=0, ymax=140, ytick={0,20,...,120},
  yticklabels={0,20,40,60,80,100,120}, minor y tick num=3, ylabel={ε\textsubscript{y}(HER)}]
\addplot[scb, rblue] table[x expr={7+\coordindex/40}, y=y] {\epsH};
\addplot[scb, rblue] table[x expr={7+(\coordindex+0.5)/40}, y=y] {\epsHb};
\addplot[sc, rblue] table[x=x, y=y] {\epsHout};
\end{axis}

% ===== Panel 4 : xi_y HER =====
\begin{axis}[bgax, at={(65.5pt,216.5pt)}, ymin=0, ymax=0.0866, ytick={0,0.02,0.04,0.06,0.08}]
\end{axis}
\fill[black!70] (100.5pt,208pt) rectangle (178.5pt,181pt);
\filldraw[fill=white, draw=black, line width=0.6pt] (99.5pt,209pt) rectangle (177.5pt,182pt);
\node[text=rblue, font=\symf\fontsize{6}{6}\selectfont, inner sep=0pt] at (103.5pt,201.5pt) {●};
\node[text=rcyan, font=\symf\fontsize{6}{6}\selectfont, inner sep=0pt] at (103.5pt,190.5pt) {●};
\node[anchor=west, font=\gfs, inner sep=0pt] at (116pt,201.3pt) {ξ\textsubscript{y}(HER)~~2.33E-2};
\node[anchor=west, font=\gfs, inner sep=0pt] at (116pt,190.3pt) {ξ\textsubscript{yi}(HER)~~3.38E-2};
\begin{axis}[fgax, at={(65.5pt,216.5pt)}, ymin=0, ymax=0.0866, ytick={0,0.02,0.04,0.06,0.08},
  yticklabels={0,0.02,0.04,0.06,0.08}, minor y tick num=3, ylabel={ξ\textsubscript{y}(HER)}]
\addplot[scb, rcyan] table[x expr={7+\coordindex/30}, y=y] {\xiHi};
\addplot[scb, rcyan] table[x expr={7+(\coordindex+0.5)/30}, y=y] {\xiHib};
\addplot[sc, rcyan] table[x=x, y=y] {\xiHiout};
\addplot[scb, rblue] table[x expr={7+\coordindex/30}, y=y] {\xiH};
\end{axis}

% ===== Panel 5 : eps_y LER =====
\begin{axis}[bgax, at={(65.5pt,157.3333pt)}, ymin=0, ymax=86, ytick={0,20,40,60,80}]
\end{axis}
\fill[black!70] (131pt,147.5pt) rectangle (178.5pt,134.5pt);
\filldraw[fill=white, draw=black, line width=0.6pt] (130pt,148.5pt) rectangle (177.5pt,135.5pt);
\node[anchor=east, font=\gfs, inner sep=0pt] at (174.5pt,141.8pt) {56.0};
\begin{axis}[fgax, at={(65.5pt,157.3333pt)}, ymin=0, ymax=86, ytick={0,20,40,60,80},
  yticklabels={0,20,40,60,80}, minor y tick num=3, ylabel={ε\textsubscript{y}(LER)}]
\addplot[scb, rred] table[x expr={7+\coordindex/40}, y=y] {\epsL};
\addplot[scb, rred] table[x expr={7+(\coordindex+0.5)/40}, y=y] {\epsLb};
\addplot[sc, rred] table[x=x, y=y] {\epsLout};
\end{axis}

% ===== Panel 6 : xi_y LER =====
\begin{axis}[bgax, at={(65.5pt,98.1667pt)}, ymin=0, ymax=0.0536, ytick={0,0.01,0.02,0.03,0.04,0.05},
  xticklabels={,8\textsuperscript{h},9\textsuperscript{h},10\textsuperscript{h},11\textsuperscript{h},12\textsuperscript{h},13\textsuperscript{h},14\textsuperscript{h},15\textsuperscript{h},},
  xticklabel style={font=\hfs, anchor=base, yshift=-15pt}]
\end{axis}
\fill[black!70] (460.5pt,89.5pt) rectangle (538.5pt,63pt);
\filldraw[fill=white, draw=black, line width=0.6pt] (459.5pt,90.5pt) rectangle (537.5pt,64pt);
\node[text=rred, font=\symf\fontsize{6}{6}\selectfont, inner sep=0pt] at (463.5pt,83pt) {●};
\node[text=rorange, font=\symf\fontsize{6}{6}\selectfont, inner sep=0pt] at (463.5pt,72.5pt) {●};
\node[anchor=west, font=\gfs, inner sep=0pt] at (476pt,82.8pt) {ξ\textsubscript{y}(LER)~~2.93E-2};
\node[anchor=west, font=\gfs, inner sep=0pt] at (476pt,72.3pt) {ξ\textsubscript{yi}(LER)~~2.85E-2};
\begin{axis}[fgax, at={(65.5pt,98.1667pt)}, ymin=0, ymax=0.0536, ytick={0,0.01,0.02,0.03,0.04,0.05},
  yticklabels={0,0.01,0.02,0.03,0.04,0.05}, minor y tick num=4, ylabel={ξ\textsubscript{y}(LER)}]
\addplot[scb, rred] table[x expr={7+\coordindex/30}, y=y] {\xiL};
\addplot[scb, rorange] table[x expr={7+\coordindex/30}, y=y] {\xiLi};
\addplot[scb, rorange] table[x expr={7+(\coordindex+0.5)/30}, y=y] {\xiLib};
\addplot[sc, rorange] table[x=x, y=y] {\xiLiout};
\end{axis}

\node[anchor=base west, font=\hfs, inner sep=0pt] at (57.5pt,24pt) {7\textsuperscript{h}0\textsuperscript{m}0\textsuperscript{s}};
\node[anchor=base west, font=\dfs, inner sep=0pt] at (38pt,11pt) {5/27/2026};
\end{tikzpicture}
\end{document}
